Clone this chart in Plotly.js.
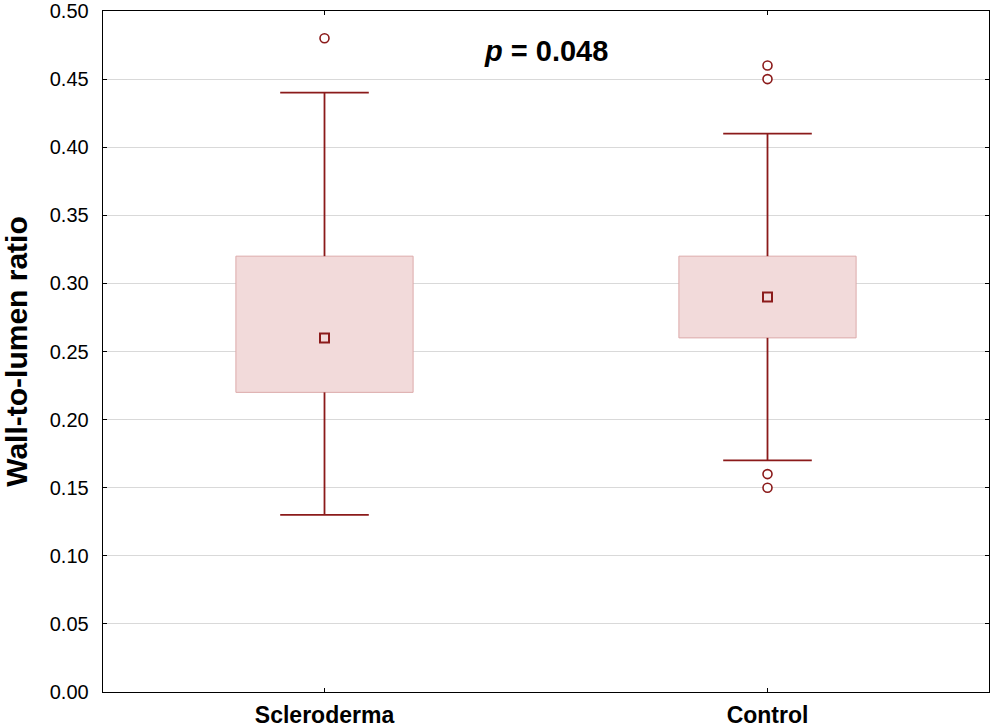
<!DOCTYPE html>
<html>
<head>
<meta charset="utf-8">
<script src="https://cdn.plot.ly/plotly-3.0.1.min.js"></script>
<style>html,body{margin:0;padding:0;background:#fff;}#chart{width:992px;height:728px;}</style>
</head>
<body>
<div id="chart"></div>
<script>
// Data
const categories = ["Scleroderma", "Control"];
const q1 = [0.22, 0.26];
const median = [0.26, 0.29];
const q3 = [0.32, 0.32];
const lowerWhisker = [0.13, 0.17];
const upperWhisker = [0.44, 0.41];
const outliers = [[0.48], [0.46, 0.45, 0.16, 0.15]];
const pText = "<i>p</i> = 0.048";

const darkRed = "#8b1a1a";
const boxFill = "#f2dada";
const boxEdge = "#dcaaaa";
const boxWidth = 0.4;
const capHalf = 0.1;

const pos = categories.map((c, i) => i);

// Boxes as floating bars
const boxTrace = {
  type: "bar",
  x: pos,
  y: q3.map((v, i) => v - q1[i]),
  base: q1,
  width: boxWidth,
  marker: {color: boxFill, line: {color: boxEdge, width: 1}},
  hoverinfo: "skip",
  showlegend: false
};

// Whiskers and caps
const wx = [], wy = [];
pos.forEach((p, i) => {
  wx.push(p, p, null, p - capHalf, p + capHalf, null);
  wy.push(q3[i], upperWhisker[i], null, upperWhisker[i], upperWhisker[i], null);
  wx.push(p, p, null, p - capHalf, p + capHalf, null);
  wy.push(q1[i], lowerWhisker[i], null, lowerWhisker[i], lowerWhisker[i], null);
});
const whiskerTrace = {
  type: "scatter", mode: "lines", x: wx, y: wy,
  line: {color: darkRed, width: 1.8},
  hoverinfo: "skip", showlegend: false
};

const medianTrace = {
  type: "scatter", mode: "markers", x: pos, y: median,
  marker: {symbol: "square", size: 9, color: boxFill, line: {color: darkRed, width: 2}},
  showlegend: false
};

const ox = [], oy = [];
outliers.forEach((arr, i) => arr.forEach(v => { ox.push(pos[i]); oy.push(v); }));
const outlierTrace = {
  type: "scatter", mode: "markers", x: ox, y: oy,
  marker: {symbol: "circle", size: 9, color: "#ffffff", line: {color: darkRed, width: 1.6}},
  showlegend: false
};

const layout = {
  width: 992, height: 728,
  margin: {l: 103, r: 3, t: 11, b: 36},
  paper_bgcolor: "#fff", plot_bgcolor: "#fff",
  font: {family: "Liberation Sans, Arial, sans-serif", color: "#000"},
  bargap: 0,
  xaxis: {
    range: [-0.5, 1.5],
    tickvals: pos, ticktext: categories.map(c => "<b>" + c + "</b>"),
    tickfont: {size: 23},
    ticks: "inside", ticklen: 4, tickcolor: "#000",
    showline: true, linecolor: "#000", linewidth: 1.3, mirror: "ticks",
    showgrid: false, zeroline: false,
    ticklabelstandoff: 2
  },
  yaxis: {
    range: [0, 0.5],
    tickvals: [0, 0.05, 0.1, 0.15, 0.2, 0.25, 0.3, 0.35, 0.4, 0.45, 0.5],
    tickformat: ".2f",
    tickfont: {size: 20},
    ticks: "inside", ticklen: 4, tickcolor: "#000",
    showline: true, linecolor: "#000", linewidth: 1.3, mirror: "ticks",
    showgrid: true, gridcolor: "#d9d9d9", gridwidth: 1,
    zeroline: false,
    ticklabelstandoff: 9,
    title: {text: "<b>Wall-to-lumen ratio</b>", font: {size: 30}, standoff: 17}
  },
  annotations: [{
    x: 0.5, y: 0.471, xref: "x", yref: "y",
    text: "<b>" + pText + "</b>",
    showarrow: false, font: {size: 29}
  }]
};

Plotly.newPlot("chart", [boxTrace, whiskerTrace, medianTrace, outlierTrace], layout, {displayModeBar: false, staticPlot: true});
</script>
</body>
</html>
